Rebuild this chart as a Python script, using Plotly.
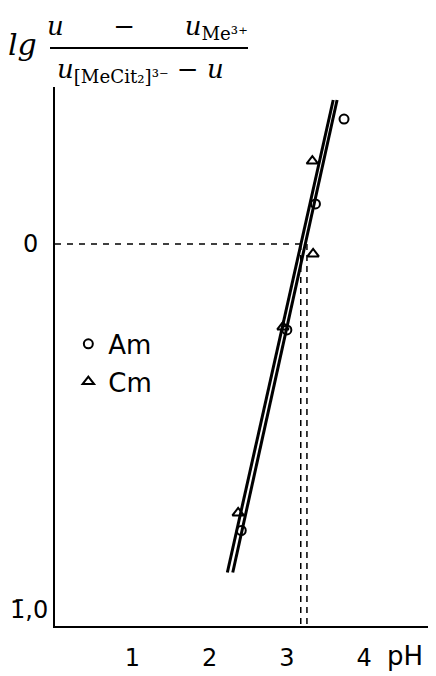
import plotly.graph_objects as go

# ---- data ----
am_ph = [2.41, 3.00, 3.37, 3.74]
am_lg = [-0.75, -0.225, 0.105, 0.327]
cm_ph = [2.37, 2.95, 3.33, 3.34]
cm_lg = [-0.704, -0.217, 0.217, -0.026]

line1_ph = [2.23, 3.60]
line1_lg = [-0.86, 0.377]
line2_ph = [2.30, 3.65]
line2_lg = [-0.86, 0.377]

zero_ph = [3.18, 3.26]          # pH where the lines cross lg = 0
tick_vals_x = [1, 2, 3, 4]
tick_text_x = ["1", "2", "3", "4"]
tick_vals_y = [0]
tick_text_y = ["0"]
y_min_label = "1\u0304,0"

FONT = "DejaVu Sans"
BODY = 8  # default page body margin of the html page

fig = go.Figure()

# fitted lines
fig.add_trace(go.Scatter(x=line1_ph, y=line1_lg, mode="lines",
                         line=dict(color="black", width=3), showlegend=False))
fig.add_trace(go.Scatter(x=line2_ph, y=line2_lg, mode="lines",
                         line=dict(color="black", width=3), showlegend=False))

# dashed guide lines
fig.add_trace(go.Scatter(x=[0, max(zero_ph)], y=[0, 0], mode="lines",
                         line=dict(color="black", width=1.5, dash="6px,6px"),
                         showlegend=False))
for p in zero_ph:
    fig.add_trace(go.Scatter(x=[p, p], y=[0, -1], mode="lines",
                             line=dict(color="black", width=1.5, dash="6px,5px"),
                             showlegend=False))

# points
fig.add_trace(go.Scatter(x=am_ph, y=am_lg, mode="markers", name="Am",
                         legendgroup="am",
                         marker=dict(symbol="circle-open", size=9, color="black",
                                     line=dict(width=2))))
fig.add_trace(go.Scatter(x=cm_ph, y=cm_lg, mode="markers", name="Cm",
                         legendgroup="cm",
                         marker=dict(symbol="triangle-up-open", size=10, color="black",
                                     line=dict(width=2))))

fig.update_layout(
    width=436 - BODY, height=676 - BODY,
    margin=dict(l=55 - BODY, r=0, t=87 - BODY, b=50),
    paper_bgcolor="white", plot_bgcolor="white",
    font=dict(family=FONT, color="black", size=22),
    showlegend=True,
    legend=dict(x=0.035, y=0.567, xanchor="left", yanchor="top",
                bgcolor="rgba(0,0,0,0)", font=dict(size=26),
                itemwidth=30, tracegroupgap=1),
    xaxis=dict(range=[0, 4.93], showgrid=False, zeroline=False,
               showline=True, linecolor="black", linewidth=2,
               tickvals=tick_vals_x, ticktext=tick_text_x,
               ticks="", ticklabelstandoff=9, automargin=False,
               tickfont=dict(size=24)),
    yaxis=dict(range=[-1.0, 0.411], showgrid=False, zeroline=False,
               showline=True, linecolor="black", linewidth=2,
               tickvals=tick_vals_y, ticktext=tick_text_y,
               ticks="", ticklabelstandoff=10, automargin=False,
               tickfont=dict(size=24)),
)

# label for -1,0 sits just above the axis corner
fig.add_annotation(text=y_min_label, xref="paper", yref="y", x=0, y=-1.0,
                   xanchor="right", yanchor="bottom", xshift=-5, showarrow=False,
                   font=dict(size=24))

# helpers: reference-picture pixels -> paper coordinates
def py(p):
    return 1 + (87 - p) / 539

def px(p):
    return (p - 55) / 381

# x-axis name
fig.add_annotation(text="pH", xref="paper", yref="paper", x=px(405),
                   y=0, yshift=-30, showarrow=False, font=dict(size=26),
                   xanchor="center", yanchor="middle")

# y-axis title: lg (fraction)
fig.add_annotation(text="<i>lg</i>", xref="paper", yref="paper",
                   x=px(22), y=py(45), showarrow=False,
                   font=dict(size=30, family="DejaVu Serif"),
                   xanchor="center", yanchor="middle")
fig.add_annotation(text="<i>u</i>      \u2212      <i>u</i><sub>Me\u00b3\u207a</sub>",
                   xref="paper", yref="paper", x=px(147), y=py(27),
                   showarrow=False, font=dict(size=26, family="DejaVu Serif"),
                   xanchor="center", yanchor="middle")
fig.add_annotation(text="<i>u</i><sub>[MeCit\u2082]\u00b3\u207b</sub> \u2212 <i>u</i>",
                   xref="paper", yref="paper", x=px(140), y=py(70),
                   showarrow=False, font=dict(size=26, family="DejaVu Serif"),
                   xanchor="center", yanchor="middle")
fig.add_shape(type="line", xref="paper", yref="paper",
              x0=px(50), x1=px(248), y0=py(48), y1=py(48),
              line=dict(color="black", width=2))

fig.write_html("out.html")
